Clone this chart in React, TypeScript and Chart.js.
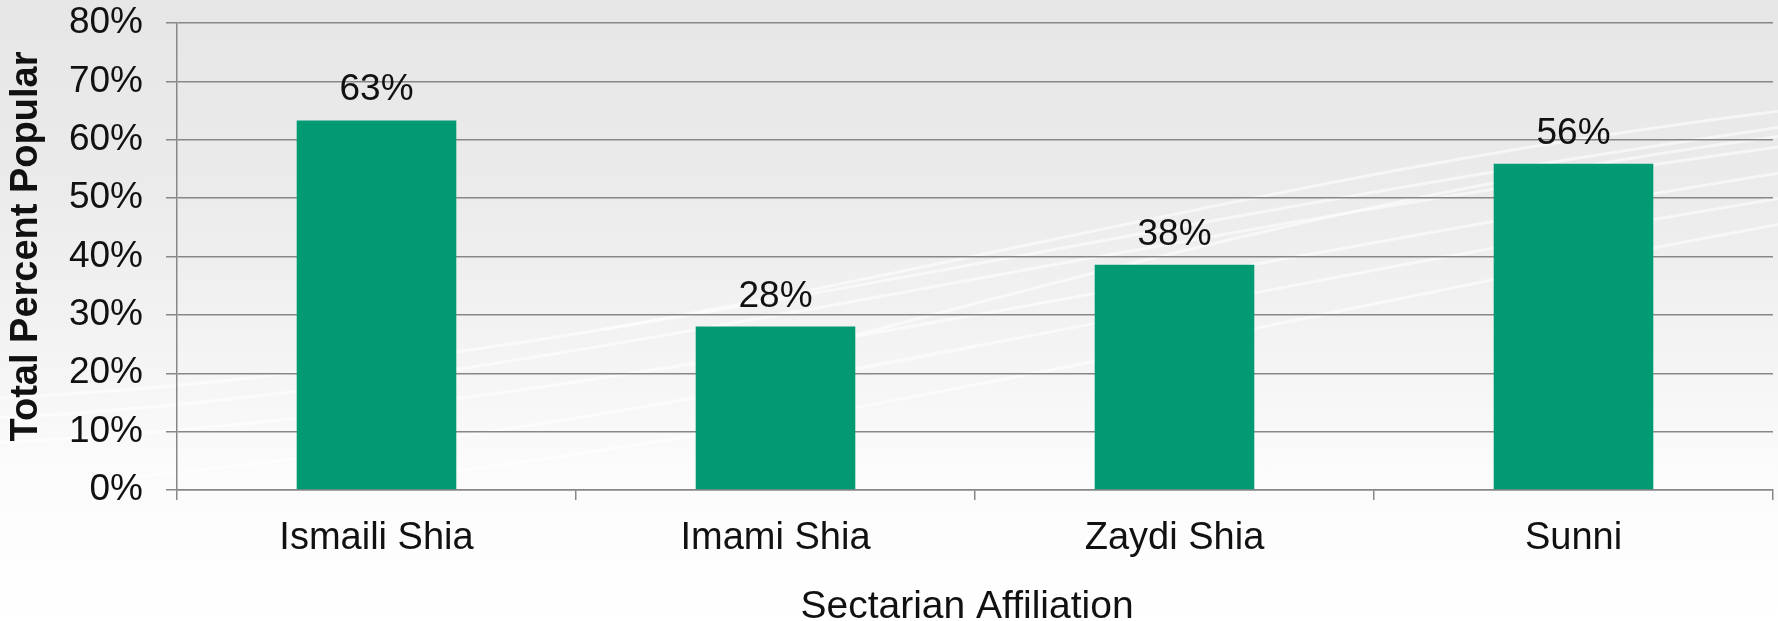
import React, { useEffect, useRef } from "react";
import { Chart, registerables } from "chart.js";

Chart.register(...registerables);

const categories = ["Ismaili Shia", "Imami Shia", "Zaydi Shia", "Sunni"];
const values = [63.3, 28.0, 38.6, 55.9];
const valueLabels = ["63%", "28%", "38%", "56%"];
const yTicks = [0, 10, 20, 30, 40, 50, 60, 70, 80];
const xTitle = "Sectarian Affiliation";
const yTitle = "Total Percent Popular";

const FONT = "'Liberation Sans', Arial, Helvetica, sans-serif";
const GRID = "#878787";
const TEXT = "#111111";

const dataLabelPlugin = {
  id: "dataLabels",
  afterDatasetsDraw(chart: any) {
    const { ctx } = chart;
    const meta = chart.getDatasetMeta(0);
    ctx.save();
    ctx.font = `37px ${FONT}`;
    ctx.fillStyle = TEXT;
    ctx.textAlign = "center";
    ctx.textBaseline = "alphabetic";
    meta.data.forEach((bar: any, i: number) => {
      ctx.fillText(valueLabels[i], bar.x, bar.y - 20);
    });
    ctx.restore();
  },
};

const axisTitlesPlugin = {
  id: "axisTitles",
  afterDraw(chart: any) {
    const { ctx, chartArea } = chart;
    ctx.save();
    ctx.fillStyle = TEXT;
    ctx.textAlign = "center";
    ctx.textBaseline = "middle";
    ctx.font = `39px ${FONT}`;
    ctx.fillText(xTitle, (chartArea.left + chartArea.right) / 2 - 8, 607);
    ctx.translate(27, (chartArea.top + chartArea.bottom) / 2 - 10);
    ctx.rotate(-Math.PI / 2);
    ctx.font = `bold 38px ${FONT}`;
    ctx.fillText(yTitle, 0, 0);
    ctx.restore();
  },
};

const swooshes = [
  "M -50 420 C 500 400, 1000 250, 1830 140",
  "M -50 400 C 520 380, 1050 230, 1830 120",
  "M -50 445 C 550 420, 1100 280, 1830 165",
  "M 100 480 C 650 430, 1150 300, 1830 190",
  "M 300 490 C 850 430, 1250 320, 1830 215",
  "M 600 330 C 1000 260, 1350 160, 1830 105",
  "M 800 350 C 1100 270, 1450 175, 1830 130",
];

export default function App() {
  const ref = useRef<HTMLCanvasElement>(null);
  useEffect(() => {
    if (!ref.current) return;
    const chart = new Chart(ref.current, {
      type: "bar",
      data: {
        labels: categories,
        datasets: [
          {
            data: values,
            backgroundColor: "#029A73",
            borderWidth: 0,
            categoryPercentage: 1,
            barPercentage: 0.4,
          },
        ],
      },
      options: {
        animation: false,
        responsive: true,
        maintainAspectRatio: false,
        layout: { padding: { left: 0, right: 5, top: 23, bottom: 0 } },
        plugins: { legend: { display: false }, tooltip: { enabled: false } },
        scales: {
          x: {
            grid: {
              drawOnChartArea: false,
              drawTicks: true,
              tickLength: 10,
              color: GRID,
              lineWidth: 1.5,
              offset: true,
            },
            border: { color: GRID, width: 1.5 },
            ticks: {
              color: TEXT,
              font: { family: FONT, size: 38 },
              padding: 16,
              maxRotation: 0,
            },
            title: { display: false },
            afterFit: (s: any) => {
              s.height = 131;
              s.paddingLeft = 0;
              s.paddingRight = 0;
            },
          },
          y: {
            min: 0,
            max: 80,
            afterBuildTicks: (s: any) => {
              s.ticks = yTicks.map((v) => ({ value: v }));
            },
            grid: {
              color: GRID,
              lineWidth: 1.5,
              drawTicks: true,
              tickLength: 11,
            },
            border: { color: GRID, width: 1.5 },
            ticks: {
              color: TEXT,
              font: { family: FONT, size: 37 },
              padding: 23,
              callback: (v: any) => `${v}%`,
            },
            title: { display: false },
            afterFit: (s: any) => {
              s.width = 177;
              s.paddingTop = 0;
              s.paddingBottom = 0;
            },
          },
        },
      },
      plugins: [dataLabelPlugin, axisTitlesPlugin],
    });
    return () => chart.destroy();
  }, []);

  return (
    <div
      style={{
        position: "fixed",
        left: 0,
        top: 0,
        width: 1778,
        height: 621,
        background:
          "linear-gradient(to bottom, #e6e6e6 0%, #ebebeb 30%, #f3f3f3 55%, #fbfbfb 75%, #ffffff 100%)",
      }}
    >
      <svg
        width={1778}
        height={621}
        style={{ position: "absolute", left: 0, top: 0 }}
      >
        {swooshes.map((d, i) => (
          <path
            key={i}
            d={d}
            fill="none"
            stroke="#ffffff"
            strokeOpacity={0.55}
            strokeWidth={3}
          />
        ))}
      </svg>
      <div style={{ position: "absolute", left: 0, top: 0, width: 1778, height: 621 }}>
        <canvas ref={ref} />
      </div>
    </div>
  );
}
